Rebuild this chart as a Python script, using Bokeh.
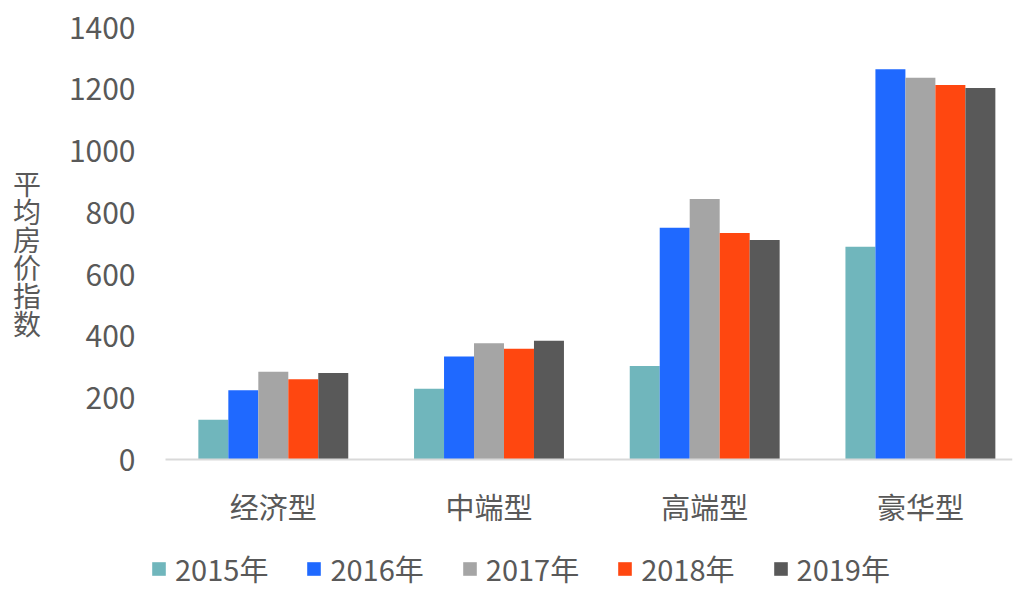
from bokeh.plotting import figure
from bokeh.models import ColumnDataSource, Range1d, FixedTicker, Legend, LegendItem
from bokeh.transform import dodge
from bokeh.embed import file_html
from bokeh.resources import INLINE

categories = ["经济型", "中端型", "高端型", "豪华型"]
years = ["2015年", "2016年", "2017年", "2018年", "2019年"]
v2015 = [130, 231, 304, 690]
v2016 = [226, 335, 752, 1265]
v2017 = [286, 378, 845, 1237]
v2018 = [261, 360, 735, 1214]
v2019 = [282, 386, 712, 1204]
y_ticks = [0, 200, 400, 600, 800, 1000, 1200, 1400]
y_title = "平均房价指数"

series = [v2015, v2016, v2017, v2018, v2019]
colors = ["#70B6BC", "#1F69FF", "#A5A5A5", "#FF4710", "#595959"]
FONT = "Noto Sans CJK SC"
TXT = "#595959"

# frame spans the whole lower area so the legend (drawn inside the frame) is not clipped
p = figure(width=1020, height=589, x_range=Range1d(-0.5786, 3.427), y_range=Range1d(-419.2, 1400),
           output_backend="svg", toolbar_location=None,
           min_border_left=148, min_border_right=8, min_border_top=27, min_border_bottom=0)
p.outline_line_color = None
p.xgrid.grid_line_color = None
p.ygrid.grid_line_color = None
p.background_fill_color = "white"
p.border_fill_color = "white"

src = ColumnDataSource(dict(x=list(range(len(categories))), **{f"s{i}": s for i, s in enumerate(series)}))
bw = 0.139
items = []
for i, (yr, c) in enumerate(zip(years, colors)):
    r = p.vbar(x=dodge("x", (i - 2) * bw), top=f"s{i}", width=bw, source=src,
               fill_color=c, line_color=None)
    items.append(LegendItem(label=yr, renderers=[r]))

# x axis, pinned at y = 0
xa = p.xaxis[0]
xa.fixed_location = 0
xa.bounds = (-0.5, 3.427)
xa.ticker = FixedTicker(ticks=list(range(len(categories))))
xa.major_label_overrides = {i: c for i, c in enumerate(categories)}
xa.axis_line_color = "#D9D9D9"
xa.axis_line_width = 2
xa.major_tick_line_color = None
xa.minor_tick_line_color = None
xa.major_tick_out = 0
xa.major_label_standoff = 25
xa.major_label_text_font = FONT
xa.major_label_text_font_size = "29px"
xa.major_label_text_color = TXT

# y axis
ya = p.yaxis[0]
ya.ticker = FixedTicker(ticks=y_ticks)
ya.axis_line_color = None
ya.major_tick_line_color = None
ya.minor_tick_line_color = None
ya.major_tick_out = 0
ya.major_label_standoff = 13
ya.major_label_text_font = FONT
ya.major_label_text_font_size = "30px"
ya.major_label_text_color = TXT
ya.axis_label = "\n".join(y_title) + "\n \n \n \n "
ya.axis_label_orientation = "horizontal"
ya.axis_label_standoff = 25
ya.axis_label_text_font = FONT
ya.axis_label_text_font_size = "28px"
ya.axis_label_text_font_style = "normal"
ya.axis_label_text_color = TXT
ya.axis_label_text_line_height = 0.7

legend = Legend(items=items, location=(2, 0), orientation="horizontal",
                glyph_width=17, glyph_height=17, label_standoff=8, spacing=37, padding=0,
                margin=0, border_line_color=None, background_fill_alpha=0,
                label_text_font=FONT, label_text_font_size="29px", label_text_color=TXT,
                label_text_line_height=0.7)
p.add_layout(legend, "center")

open("out.html", "w").write(file_html(p, INLINE))
